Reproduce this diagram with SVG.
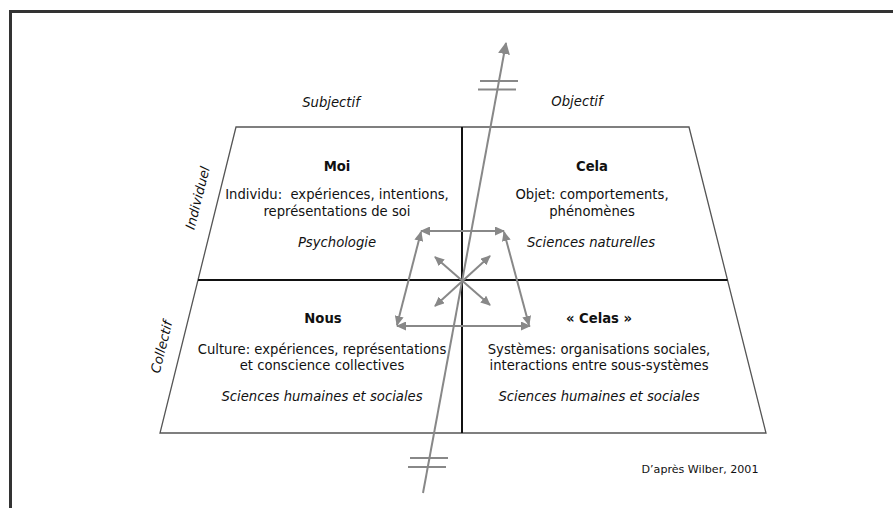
<svg xmlns="http://www.w3.org/2000/svg" width="893" height="508" viewBox="0 0 893 508">
  <style>
    .frame { fill: none; stroke: #333; stroke-width: 3; }
    .outline { fill: none; stroke: #555; stroke-width: 1.3; }
    .divider { stroke: #111; stroke-width: 2; }
    .link { stroke: #888; stroke-width: 2; fill: none; }
    .bar { stroke: #888; stroke-width: 2; }
    text { font-family: "DejaVu Sans", Verdana, sans-serif; font-size: 13.2px; fill: #111; text-anchor: middle; }
    .title { font-weight: bold; }
    .it { font-style: italic; }
    .note { font-size: 11.1px; }
  </style>
  <defs>
    <marker id="head" viewBox="0 0 10 9" refX="9" refY="4.5" markerWidth="10" markerHeight="9" markerUnits="userSpaceOnUse" orient="auto-start-reverse">
      <path d="M0,0 L10,4.5 L0,9 z" fill="#888"/>
    </marker>
    <marker id="bighead" viewBox="0 0 12 12" refX="11" refY="6" markerWidth="12" markerHeight="12" markerUnits="userSpaceOnUse" orient="auto">
      <path d="M0,0 L12,6 L0,12 z" fill="#888"/>
    </marker>
  </defs>

  <!-- page frame -->
  <rect class="frame" x="10.5" y="11.5" width="900" height="600"/>

  <!-- axis labels -->
  <text class="it" x="331" y="107">Subjectif</text>
  <text class="it" x="577" y="106">Objectif</text>
  <text class="it" transform="translate(202,199) rotate(-76)">Individuel</text>
  <text class="it" transform="translate(166,348) rotate(-76)">Collectif</text>

  <!-- quadrant grid -->
  <g id="grid">
    <path class="outline" d="M236,127 L689,127 L766,433 L160,433 Z"/>
    <line class="divider" x1="198" y1="280" x2="727.5" y2="280"/>
    <line class="divider" x1="462" y1="127" x2="462" y2="433"/>
  </g>

  <g id="moi">
    <text class="title" x="337" y="171">Moi</text>
    <text x="337" y="199" xml:space="preserve">Individu:  expériences, intentions,</text>
    <text x="337" y="216">représentations de soi</text>
    <text class="it" x="337" y="247">Psychologie</text>
  </g>

  <g id="cela">
    <text class="title" x="592" y="171">Cela</text>
    <text x="592" y="199">Objet: comportements,</text>
    <text x="592" y="216">phénomènes</text>
    <text class="it" x="591" y="247">Sciences naturelles</text>
  </g>

  <g id="nous">
    <text class="title" x="323" y="323">Nous</text>
    <text x="322" y="354">Culture: expériences, représentations</text>
    <text x="322" y="370">et conscience collectives</text>
    <text class="it" x="322" y="401">Sciences humaines et sociales</text>
  </g>

  <g id="celas">
    <text class="title" x="599" y="323">« Celas »</text>
    <text x="599" y="354">Systèmes: organisations sociales,</text>
    <text x="599" y="370">interactions entre sous-systèmes</text>
    <text class="it" x="599" y="401">Sciences humaines et sociales</text>
  </g>

  <!-- connectors -->
  <g id="connectors">
    <line class="link" x1="423" y1="493" x2="506" y2="43" marker-end="url(#bighead)"/>
    <line class="bar" x1="480" y1="81" x2="518" y2="81"/>
    <line class="bar" x1="478" y1="89.5" x2="516" y2="89.5"/>
    <line class="bar" x1="410" y1="458" x2="448" y2="458"/>
    <line class="bar" x1="408" y1="467" x2="446" y2="467"/>

    <line class="link" x1="421" y1="231" x2="504" y2="231" marker-start="url(#head)" marker-end="url(#head)"/>
    <line class="link" x1="397" y1="326" x2="530" y2="326" marker-start="url(#head)" marker-end="url(#head)"/>
    <line class="link" x1="421" y1="232" x2="397" y2="325" marker-start="url(#head)" marker-end="url(#head)"/>
    <line class="link" x1="504" y1="232" x2="529" y2="325" marker-start="url(#head)" marker-end="url(#head)"/>

    <line class="link" x1="435" y1="257" x2="490" y2="305" marker-start="url(#head)" marker-end="url(#head)"/>
    <line class="link" x1="490" y1="256" x2="435" y2="306" marker-start="url(#head)" marker-end="url(#head)"/>
  </g>

  <text class="note" x="700" y="473">D’après Wilber, 2001</text>
</svg>
